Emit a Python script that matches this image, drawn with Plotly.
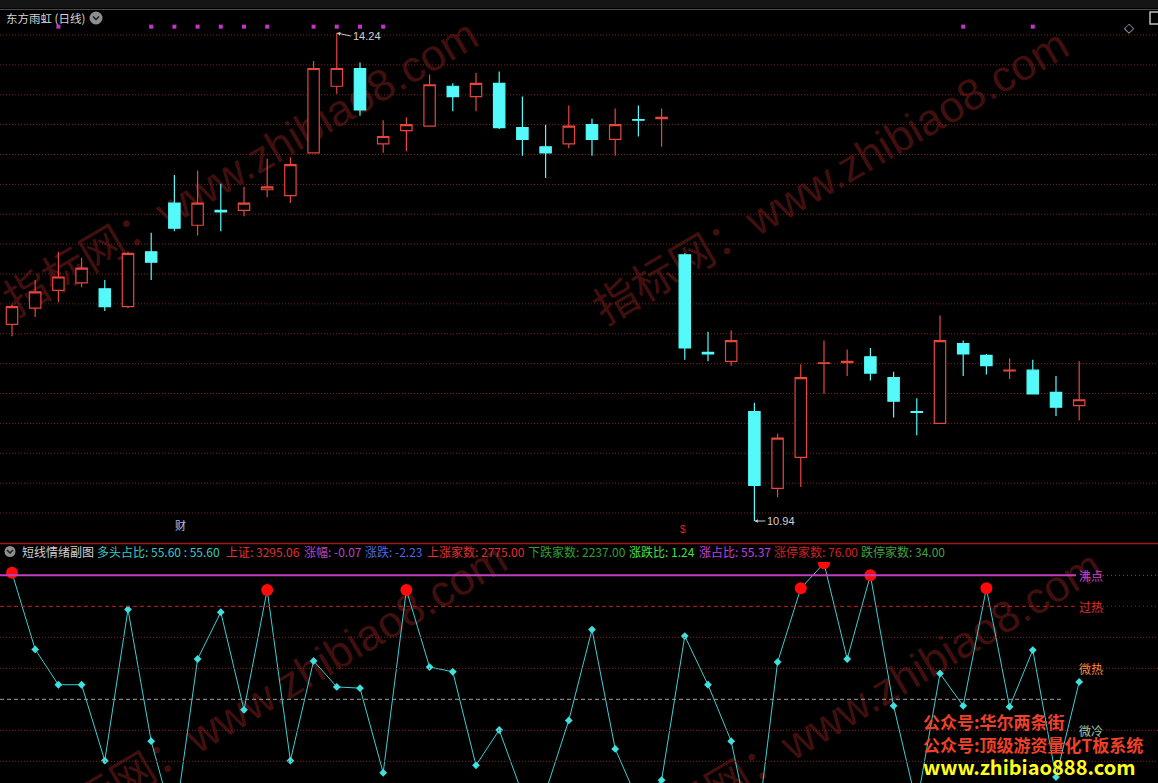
import plotly.graph_objects as go

W, H = 1158, 783

# ---------------- data ----------------
bar_index = list(range(47))
opens  = [12.27, 12.38, 12.50, 12.55, 12.51, 12.39, 12.76, 13.09, 12.94, 13.04,
          13.04, 13.18, 13.14, 13.43, 13.88, 14.00, 13.49, 13.58, 13.61, 13.88,
          13.81, 13.90, 13.60, 13.47, 13.49, 13.62, 13.52, 13.655, 13.66, 12.74,
          12.08, 12.02, 11.68, 11.16, 11.37, 12.005, 12.01, 12.05, 11.91, 11.68,
          11.60, 12.14, 12.06, 11.955, 11.96, 11.81, 11.72]
highs  = [12.40, 12.57, 12.76, 12.72, 12.57, 12.76, 12.89, 13.28, 13.31, 13.22,
          13.20, 13.39, 13.40, 14.05, 14.24, 14.04, 13.65, 13.67, 13.96, 13.90,
          13.97, 13.98, 13.81, 13.62, 13.75, 13.66, 13.73, 13.75, 13.73, 12.75,
          12.22, 12.23, 11.74, 11.53, 12.00, 12.16, 12.10, 12.11, 11.95, 11.77,
          12.33, 12.16, 12.07, 12.04, 12.03, 11.92, 12.02]
lows   = [12.19, 12.32, 12.42, 12.52, 12.36, 12.38, 12.57, 12.90, 12.87, 12.90,
          13.00, 13.13, 13.09, 13.43, 13.83, 13.68, 13.43, 13.44, 13.61, 13.71,
          13.71, 13.59, 13.41, 13.26, 13.46, 13.41, 13.41, 13.54, 13.47, 12.03,
          12.02, 11.99, 10.94, 11.10, 11.17, 11.80, 11.92, 11.89, 11.64, 11.52,
          11.60, 11.92, 11.93, 11.90, 11.80, 11.65, 11.62]
closes = [12.39, 12.49, 12.59, 12.65, 12.39, 12.75, 12.69, 12.92, 13.09, 13.03,
          13.09, 13.20, 13.35, 14.00, 14.00, 13.72, 13.54, 13.62, 13.89, 13.81,
          13.90, 13.60, 13.52, 13.43, 13.61, 13.52, 13.62, 13.65, 13.67, 12.11,
          12.07, 12.16, 11.18, 11.50, 11.91, 12.01, 12.02, 11.94, 11.75, 11.675,
          12.16, 12.07, 11.99, 11.96, 11.80, 11.71, 11.76]

marker_bars = [2, 6, 7, 8, 9, 10, 11, 13, 14, 15, 16, 41, 44]
marker_level = 14.283

sentiment = [90.8, 66.1, 54.7, 54.7, 30.2, 79.0, 36.5, 9.1, 63.0, 78.1,
             46.6, 85.3, 30.2, 62.4, 54.0, 53.6, 26.3, 85.3, 60.4, 58.9,
             28.7, 40.1, 19.5, 20.1, 43.2, 72.5, 34.0, 16.9, 23.9, 70.4,
             54.7, 36.5, 1.0, 62.0, 85.8, 93.9, 63.0, 90.0, 47.9, 15.9,
             58.3, 47.9, 85.8, 47.6, 65.9, 24.9, 55.6]
hot_threshold = 80

level_values = [90, 80, 70, 60, 50, 40, 30]
level_labels = {90: "沸点", 80: "过热", 60: "微热", 40: "微冷"}

header_labels = ["短线情绪副图", "多头占比", "上证", "涨幅", "涨跌", "上涨家数",
                 "下跌家数", "涨跌比", "涨占比", "涨停家数", "跌停家数"]
header_values = ["", "55.60 : 55.60", "3295.06", "-0.07", "-2.23", "2775.00",
                 "2237.00", "1.24", "55.37", "76.00", "34.00"]

# ---------------- styling helpers ----------------
RED = "#e8463c"
CYAN = "#54fafa"
FONT = "Liberation Sans, Noto Sans CJK SC, sans-serif"
CJK = "Noto Sans CJK SC, Liberation Sans, sans-serif"


def px(x):
    return x / W


def py(y):
    return 1 - y / H


top_dom = [py(540), py(20)]
bot_dom = [0, py(562)]
x_range = [-0.517, 49.397]
top_range = [10.8115, 14.3279]
bot_range = [23.0, 94.3]

fig = go.Figure()

fig.add_trace(go.Candlestick(
    x=bar_index, open=opens, high=highs, low=lows, close=closes,
    increasing=dict(line=dict(color=RED, width=1.2), fillcolor="black"),
    decreasing=dict(line=dict(color=CYAN, width=1.2), fillcolor=CYAN),
    whiskerwidth=0, xaxis="x", yaxis="y", hoverinfo="skip", showlegend=False))

fig.add_trace(go.Scatter(
    x=marker_bars, y=[marker_level] * len(marker_bars), mode="markers",
    marker=dict(symbol="square", size=4, color="#c832c8"),
    xaxis="x", yaxis="y", hoverinfo="skip", showlegend=False))

fig.add_trace(go.Scatter(
    x=bar_index, y=sentiment, mode="lines+markers",
    line=dict(color="#3ccfd2", width=1),
    marker=dict(symbol="diamond", size=6, color="#40e0e0"),
    xaxis="x2", yaxis="y2", hoverinfo="skip", showlegend=False))

hot_x = [i for i, v in zip(bar_index, sentiment) if v > hot_threshold]
hot_y = [v for v in sentiment if v > hot_threshold]
fig.add_trace(go.Scatter(
    x=hot_x, y=hot_y, mode="markers",
    marker=dict(symbol="circle", size=12, color="#ff0a0a"),
    xaxis="x2", yaxis="y2", hoverinfo="skip", showlegend=False))

shapes = []
annotations = []

# top bar
shapes.append(dict(type="rect", xref="paper", yref="paper", x0=0, x1=1,
                   y0=py(8), y1=1, fillcolor="#151515", line=dict(width=0)))
shapes.append(dict(type="line", xref="paper", yref="paper", x0=0, x1=1,
                   y0=py(9.5), y1=py(9.5), line=dict(color="#4a4a4a", width=1)))

# top grid lines
for k in range(17):
    yy = 35 + 29.875 * k
    shapes.append(dict(type="line", xref="paper", yref="paper", x0=0, x1=1,
                       y0=py(yy), y1=py(yy), layer="below",
                       line=dict(color="#7e2020", width=1, dash="1px,2px")))

# separator
shapes.append(dict(type="line", xref="paper", yref="paper", x0=0, x1=1,
                   y0=py(543.5), y1=py(543.5), line=dict(color="#9a1818", width=1.5)))

# indicator levels
lab_end, lab_restart = px(1076), px(1103)
for v in level_values:
    if v == 90:
        shapes.append(dict(type="line", xref="paper", yref="y2", x0=0, x1=lab_end,
                           y0=v, y1=v, line=dict(color="#c040c0", width=2)))
        shapes.append(dict(type="line", xref="paper", yref="y2", x0=lab_restart, x1=1,
                           y0=v, y1=v, line=dict(color="#a030a0", width=1, dash="1px,3px")))
    elif v == 80:
        shapes.append(dict(type="line", xref="paper", yref="y2", x0=0, x1=lab_end,
                           y0=v, y1=v, line=dict(color="#c02424", width=1, dash="4px,3px")))
        shapes.append(dict(type="line", xref="paper", yref="y2", x0=lab_restart, x1=1,
                           y0=v, y1=v, line=dict(color="#8a2020", width=1, dash="1px,3px")))
    elif v == 50:
        shapes.append(dict(type="line", xref="paper", yref="y2", x0=0, x1=px(1062),
                           y0=v, y1=v, line=dict(color="#a0a0a0", width=1, dash="4px,3px")))
    elif v in level_labels:
        shapes.append(dict(type="line", xref="paper", yref="y2", x0=0, x1=lab_end,
                           y0=v, y1=v, line=dict(color="#8a2020", width=1, dash="1px,2px")))
        shapes.append(dict(type="line", xref="paper", yref="y2", x0=lab_restart, x1=1,
                           y0=v, y1=v, line=dict(color="#8a2020", width=1, dash="1px,2px")))
    else:
        shapes.append(dict(type="line", xref="paper", yref="y2", x0=0, x1=1,
                           y0=v, y1=v, line=dict(color="#8a2020", width=1, dash="1px,2px")))

label_colors = {90: "#cc44cc", 80: "#e03030", 60: "#ff8a40", 40: "#a8c8a8"}
for v, t in level_labels.items():
    annotations.append(dict(xref="paper", yref="y2", x=px(1077), y=v, text=t,
                            showarrow=False, xanchor="left", yanchor="middle",
                            font=dict(family=CJK, size=12, color=label_colors[v])))

# watermarks
wm_text = "指标网：www.zhibiao8.com"
wm_lines = [((10, 330), (495, 45)), ((600, 338), (1085, 55)),
            ((40, 858), (525, 568)), ((635, 865), (1120, 575))]
for (xa, ya), (xb, yb) in wm_lines:
    shapes.append(dict(type="line", xref="paper", yref="paper",
                       x0=px(xa), y0=py(ya), x1=px(xb), y1=py(yb), layer="below",
                       line=dict(color="rgba(0,0,0,0)", width=0),
                       label=dict(text=wm_text, textposition="middle",
                                  font=dict(family=FONT, size=44,
                                            color="rgba(125,30,30,0.55)"))))

# title & icons
annotations.append(dict(xref="paper", yref="paper", x=px(4), y=py(18),
                        text="东方雨虹 (日线)", showarrow=False, xanchor="left",
                        yanchor="middle", font=dict(family=CJK, size=11.5, color="#d4d4d4")))
for cx, cy, r in [(96, 18, 6.5), (10, 551.5, 5.5)]:
    shapes.append(dict(type="circle", xref="paper", yref="paper",
                       x0=px(cx - r), x1=px(cx + r), y0=py(cy + r), y1=py(cy - r),
                       fillcolor="#8e8e8e", line=dict(width=0)))
    path = "M {},{} L {},{} L {},{}".format(
        px(cx - 3), py(cy - 1.5), px(cx), py(cy + 1.5), px(cx + 3), py(cy - 1.5))
    shapes.append(dict(type="path", xref="paper", yref="paper", path=path,
                       line=dict(color="#1a1a1a", width=1.5)))
annotations.append(dict(xref="paper", yref="paper", x=px(1136), y=py(18), text="◇",
                        showarrow=False, font=dict(family="DejaVu Sans", size=13, color="#bdbdbd")))
shapes.append(dict(type="rect", xref="paper", yref="paper", x0=px(1150), x1=px(1160),
                   y0=py(24), y1=py(12), line=dict(color="#bdbdbd", width=1.5)))

# high / low labels
annotations.append(dict(xref="x", yref="y", x=14, y=14.24, text="14.24", showarrow=True,
                        ax=14, ay=3, xanchor="left", arrowhead=2, arrowsize=0.7,
                        arrowwidth=1, arrowcolor="#c8c8c8", standoff=0,
                        font=dict(family=FONT, size=11, color="#d0d0d0")))
annotations.append(dict(xref="x", yref="y", x=32, y=10.94, text="10.94", showarrow=True,
                        ax=11, ay=0, xanchor="left", arrowhead=2, arrowsize=0.7,
                        arrowwidth=1, arrowcolor="#c8c8c8", standoff=0,
                        font=dict(family=FONT, size=11, color="#d0d0d0")))

# event markers
annotations.append(dict(xref="paper", yref="paper", x=px(173), y=py(535), text="财",
                        showarrow=False, font=dict(family=CJK, size=11, color="#a8c0ff")))
annotations.append(dict(xref="paper", yref="paper", x=px(683), y=py(537), text="$",
                        showarrow=False, font=dict(family=FONT, size=10, color="#e02020")))

# header
header_x = [20, 95, 224, 302, 363, 425, 526, 627, 697, 772, 859]
header_colors = ["#d0d0d0", "#3cc8c8", "#e03030", "#b048c0", "#4a68e8", "#e03030",
                 "#30a030", "#40e040", "#c040e0", "#d02020", "#40a040"]
for lab, val, hx, col in zip(header_labels, header_values, header_x, header_colors):
    txt = lab if not val else "{}: {}".format(lab, val)
    annotations.append(dict(xref="paper", yref="paper", x=px(hx), y=py(551.5), text=txt,
                            showarrow=False, xanchor="left", yanchor="middle",
                            font=dict(family=CJK, size=12, color=col)))

# promo text
promo = [("<b>公众号:华尔两条街</b>", 721, 17, "#f0402a"),
         ("<b>公众号:顶级游资量化T板系统</b>", 744, 17, "#f0402a"),
         ("<b>www.zhibiao888.com</b>", 766, 20, "#ffff1a")]
for t, yy, sz, col in promo:
    annotations.append(dict(xref="paper", yref="paper", x=px(921), y=py(yy), text=t,
                            showarrow=False, xanchor="left", yanchor="middle",
                            font=dict(family=CJK, size=sz, color=col)))

axis_common = dict(visible=False, showgrid=False, zeroline=False, fixedrange=True)
fig.update_layout(
    width=W, height=H, margin=dict(l=0, r=0, t=0, b=0),
    paper_bgcolor="black", plot_bgcolor="black", showlegend=False,
    xaxis=dict(domain=[0, 1], range=x_range, anchor="y",
               rangeslider=dict(visible=False), **axis_common),
    yaxis=dict(domain=top_dom, range=top_range, anchor="x", **axis_common),
    xaxis2=dict(domain=[0, 1], range=x_range, anchor="y2", **axis_common),
    yaxis2=dict(domain=bot_dom, range=bot_range, anchor="x2", **axis_common),
    shapes=shapes, annotations=annotations, hovermode=False,
)

fig.write_html("out.html", config={"displayModeBar": False},
               post_script="document.body.style.margin='0';document.body.style.background='black';document.body.style.overflow='hidden';")
